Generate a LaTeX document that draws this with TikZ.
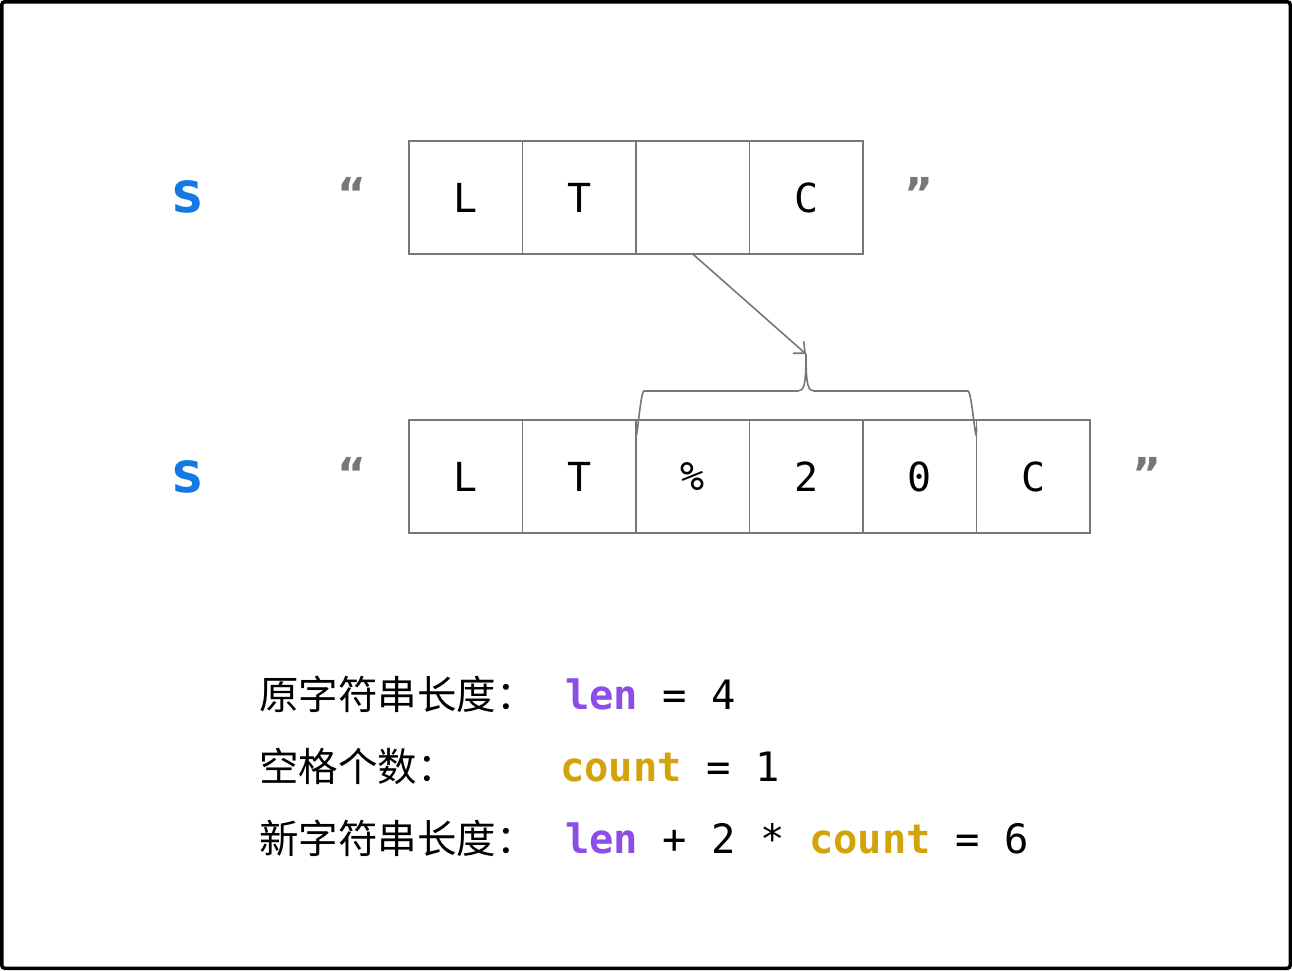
\documentclass[tikz,border=0pt]{standalone}
\usepackage{fontspec}
\setmainfont{DejaVu Sans}
\setmonofont{DejaVu Sans Mono}
\newfontfamily\cjk{Noto Sans CJK SC}
\usetikzlibrary{arrows.meta}
\definecolor{cellgray}{HTML}{777777}
\definecolor{sblue}{HTML}{1479E2}
\definecolor{lenpurple}{HTML}{8B4FE8}
\definecolor{cntgold}{HTML}{D4A20B}
\tikzset{
  cell/.style={draw=cellgray, line width=1.8pt, minimum width=113.5pt, minimum height=113pt, inner sep=0pt, outer sep=0pt, font=\fontsize{40}{48}\selectfont\ttfamily},
  slabel/.style={font=\fontsize{57}{60}\selectfont\ttfamily\bfseries, text=sblue, inner sep=0pt},
  quote/.style={font=\fontsize{44}{50}\selectfont\bfseries, text=cellgray, inner sep=0pt},
  cjktext/.style={font=\fontsize{39.5}{46}\selectfont\cjk, anchor=base west, inner sep=0pt},
  code/.style={font=\fontsize{40.5}{48}\selectfont\ttfamily, anchor=base west, inner sep=0pt},
  conn/.style={draw=cellgray, line width=1.6pt},
}
\newcommand{\lenw}{\textcolor{lenpurple}{\bfseries len}}
\newcommand{\cntw}{\textcolor{cntgold}{\bfseries count}}
\begin{document}
\begin{tikzpicture}[x=1pt,y=-1pt]
\useasboundingbox (0,0) rectangle (1292,970);
\draw[line width=3.5pt, rounded corners=3pt] (1.75,1.75) rectangle (1290.25,968.25);
% top row
\node[cell] (t1) at (465.75,197.5) {L};
\node[cell, anchor=west] (t2) at (t1.east) {T};
\node[cell, anchor=west] (t3) at (t2.east) {};
\node[cell, anchor=west] (t4) at (t3.east) {C};
% bottom row
\node[cell] (b1) at (465.75,476.5) {L};
\node[cell, anchor=west] (b2) at (b1.east) {T};
\node[cell, anchor=west] (b3) at (b2.east) {\%};
\node[cell, anchor=west] (b4) at (b3.east) {2};
\node[cell, anchor=west] (b5) at (b4.east) {0};
\node[cell, anchor=west] (b6) at (b5.east) {C};
% labels
\node[slabel] (s1) at (188,197) {s};
\node[slabel] (s2) at (188,477) {s};
\node[quote] (q1) at (352,193) {“};
\node[quote] (q2) at (919,193) {”};
\node[quote] (q3) at (352,473) {“};
\node[quote] (q4) at (1147,473) {”};
% brace
\coordinate (tip) at (806,354);
\draw[conn] ([yshift=-7pt]b3.north west) .. controls +(0,30) and +(-4,0) .. (644,391)
  -- (798,391) .. controls (804,391) and (806,385) .. (tip)
  .. controls (806,385) and (808,391) .. (814,391)
  -- (968,391) .. controls +(4,0) and +(0,30) .. ([yshift=-7pt]b5.north east);
\draw[conn, -{Straight Barb[length=9pt,width=16pt,line width=1.6pt]}] (t3.south) -- (tip);
% text
\node[cjktext] (c1) at (259,709) {原字符串长度：};
\node[cjktext] (c2) at (259,781) {空格个数：};
\node[cjktext] (c3) at (259,853) {新字符串长度：};
\node[code] (e1) at (565,709) {\lenw{} = 4};
\node[code] (e2) at (560,781) {\cntw{} = 1};
\node[code] (e3) at (565,853) {\lenw{} + 2 * \cntw{} = 6};
\end{tikzpicture}
\end{document}
